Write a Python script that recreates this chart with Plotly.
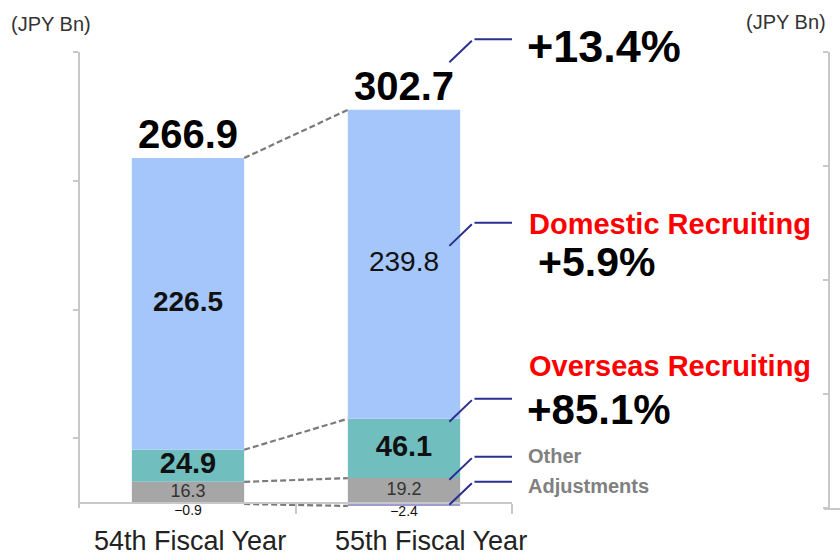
import plotly.graph_objects as go

# ---- data (JPY Bn) ----
categories = ["54th Fiscal Year", "55th Fiscal Year"]
other = [16.3, 19.2]
overseas = [24.9, 46.1]
domestic = [226.5, 239.8]
adjustments = [-0.9, -2.4]
totals = [266.9, 302.7]

# ---- styles ----
W, H = 840, 560
FONT = "Arial, 'Liberation Sans', sans-serif"
BLUE = "#a4c6fb"
TEAL = "#70bebe"
GRAY = "#a6a6a6"
ADJ = "#9c9cd2"
NAVY = "#2b2f8f"
AXIS = "#c8c8c8"
DASH = "#7a7a7a"
BAR_W = 0.52
Y_RANGE = [-4, 350]


def px(x):
    return x / W


def py(y):
    return 1 - y / H


x = list(range(len(categories)))
other_top = other[:]
overseas_top = [o + s for o, s in zip(other, overseas)]
domestic_top = [t + d for t, d in zip(overseas_top, domestic)]

fig = go.Figure()

# stacked bars (bottom to top), adjustments below zero
for vals, col in [(other, GRAY), (overseas, TEAL), (domestic, BLUE), (adjustments, ADJ)]:
    fig.add_trace(go.Bar(x=x, y=vals, width=BAR_W, marker=dict(color=col, line=dict(width=0)),
                         hoverinfo="skip"))

# dashed connectors between the two bars
half = BAR_W / 2
for lvl in [domestic_top, overseas_top, other_top, adjustments]:
    fig.add_trace(go.Scatter(x=[x[0] + half, x[1] - half], y=[lvl[0], lvl[1]], mode="lines",
                             line=dict(color=DASH, width=2.2, dash="6px,3px"), hoverinfo="skip"))


def text_trace(xs, ys, texts, size, color="#000", pos="middle center"):
    return go.Scatter(x=xs, y=ys, text=texts, mode="text", textposition=pos,
                      textfont=dict(family=FONT, size=size, color=color),
                      cliponaxis=False, hoverinfo="skip")


# totals above the bars
fig.add_trace(text_trace(x, domestic_top, [f"<b>{t:.1f}</b>" for t in totals], 40, pos="top center"))
# domestic segment labels
dom_mid = [t + d / 2 for t, d in zip(overseas_top, domestic)]
fig.add_trace(text_trace([x[0]], [dom_mid[0]], [f"<b>{domestic[0]:.1f}</b>"], 28, "#111"))
fig.add_trace(text_trace([x[1]], [dom_mid[1]], [f"{domestic[1]:.1f}"], 28, "#111"))
# overseas segment labels
ov_mid = [o + s / 2 for o, s in zip(other, overseas)]
fig.add_trace(text_trace(x, ov_mid, [f"<b>{v:.1f}</b>" for v in overseas], 29, "#111"))
# other segment labels
fig.add_trace(text_trace(x, [v / 2 for v in other], [f"{v:.1f}" for v in other], 18, "#333"))
# adjustment labels below zero
fig.add_trace(text_trace(x, adjustments, [f"\u2212{abs(v):.1f}" for v in adjustments], 14, "#111",
                         pos="bottom center"))

# secondary frame on the right
fig.add_trace(go.Scatter(x=[], y=[], xaxis="x2", yaxis="y2", hoverinfo="skip"))

growth_total = (totals[1] / totals[0] - 1) * 100
growth_dom = (domestic[1] / domestic[0] - 1) * 100
growth_ov = (overseas[1] / overseas[0] - 1) * 100

# callout leaders: start on the right bar, rise 23px, then run to the plot edge
callout_start_x = 1.21
callout_levels = [342, 199.5, 63, 18, -1.5]
annotations = []
for sy in callout_levels:
    annotations.append(dict(x=callout_start_x, y=sy, xref="x", yref="y", ax=24, ay=-23,
                            showarrow=True, arrowhead=0, arrowwidth=2, arrowcolor=NAVY, text=""))
    annotations.append(dict(x=1.4999, y=sy, xref="x", yref="y", yshift=23, ax=-39, ay=0,
                            showarrow=True, arrowhead=0, arrowwidth=2, arrowcolor=NAVY, text=""))


def label(text, x0, yc, size, color="#000", anchor="left"):
    annotations.append(dict(x=px(x0), y=py(yc), xref="paper", yref="paper", xanchor=anchor,
                            yanchor="middle", showarrow=False, text=text,
                            font=dict(family=FONT, size=size, color=color)))


label(f"<b>+{growth_total:.1f}%</b>", 525, 46, 45)
label("<b>Domestic Recruiting</b>", 527, 224, 29, "#ff0000")
label(f"<b>+{growth_dom:.1f}%</b>", 536, 262, 41)
label("<b>Overseas Recruiting</b>", 527, 366, 29, "#ff0000")
label(f"<b>+{growth_ov:.1f}%</b>", 525, 409, 42)
label("<b>Other</b>", 526, 456, 20, "#808080")
label("<b>Adjustments</b>", 526, 486, 20, "#808080")
label("(JPY Bn)", 9, 24, 20, "#333")
label("(JPY Bn)", 744, 22, 20, "#333")
label(categories[0], 190, 541, 27, "#222", anchor="center")
label(categories[1], 431, 541, 27, "#222", anchor="center")

y_dom = [py(508), py(52)]
zero_pos = y_dom[0] + (0 - Y_RANGE[0]) / (Y_RANGE[1] - Y_RANGE[0]) * (y_dom[1] - y_dom[0])

fig.update_layout(
    width=W, height=H, margin=dict(l=0, r=0, t=0, b=0),
    plot_bgcolor="white", paper_bgcolor="white", showlegend=False, barmode="relative",
    font=dict(family=FONT),
    xaxis=dict(domain=[px(80), px(512)], range=[-0.5, 1.5], anchor="free", position=zero_pos,
               showline=True, linecolor=AXIS, linewidth=1.5, ticks="outside", tickvals=[0.5, 1.5],
               ticklen=10, tickcolor=AXIS, tickwidth=1.5, showticklabels=False, showgrid=False,
               zeroline=False, fixedrange=True),
    yaxis=dict(domain=y_dom, range=Y_RANGE, anchor="x", showline=True, linecolor=AXIS,
               linewidth=1.5, ticks="outside", ticklen=5, tickcolor=AXIS, tickwidth=1.5,
               tickvals=[50, 150, 250, 350], showticklabels=False, showgrid=False, zeroline=False,
               fixedrange=True),
    yaxis2=dict(overlaying="y", anchor="free", position=px(829), side="left", range=[0, 4],
                tickvals=[0, 1, 2, 3, 4], showline=True, linecolor=AXIS, linewidth=1.5,
                ticks="outside", ticklen=5, tickcolor=AXIS, tickwidth=1.5, showticklabels=False,
                showgrid=False, zeroline=False, fixedrange=True),
    xaxis2=dict(domain=[px(824), 1], anchor="y2", range=[0, 1], showline=True, linecolor=AXIS,
                linewidth=1.5, showticklabels=False, showgrid=False, zeroline=False, ticks="",
                fixedrange=True),
    annotations=annotations,
)

fig.write_html("out.html")
